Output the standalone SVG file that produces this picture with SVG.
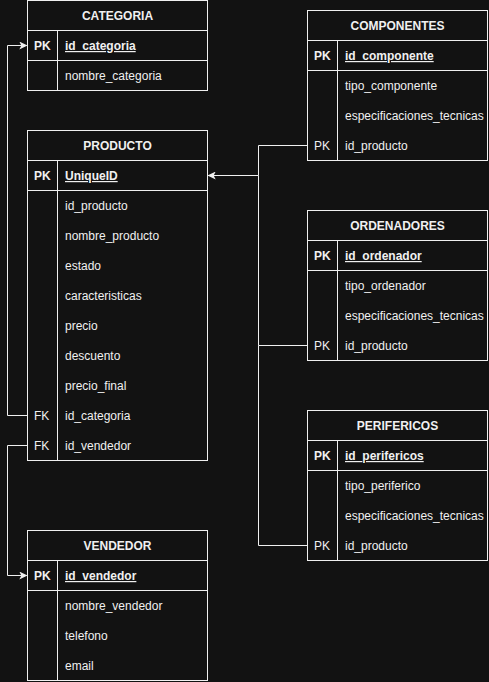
<svg xmlns="http://www.w3.org/2000/svg" width="489" height="682" viewBox="0 0 489 682">
<style>
.bx{fill:#121212;stroke:#f0f0f0;stroke-width:1}
.ln{stroke:#f0f0f0;stroke-width:1;fill:none}
.t{font-family:"Liberation Sans",Arial,sans-serif;font-size:12px;fill:#f0f0f0}
.h{font-weight:bold;text-anchor:middle}
.b{font-weight:bold}
.u{text-decoration:underline}
.c{fill:none;stroke:#f0f0f0;stroke-width:1}
</style>
<defs>
<marker id="arr" viewBox="0 0 10 10" refX="9" refY="5" markerWidth="8" markerHeight="8" markerUnits="userSpaceOnUse" orient="auto">
<path d="M0,0 L10,5 L0,10 L2.5,5 Z" fill="#f0f0f0"/>
</marker>
</defs>
<rect width="489" height="682" fill="#121212"/>

<g id="connectors">
<path class="c" d="M307.5,145.5 H258.5 V175.5 H208.5" marker-end="url(#arr)"/>
<path class="c" d="M307.5,345.5 H258.5 V175.5"/>
<path class="c" d="M307.5,545.5 H258.5 V345.5"/>
<path class="c" d="M27.5,415.5 H7.5 V45.5 H26.5" marker-end="url(#arr)"/>
<path class="c" d="M27.5,445.5 H7.5 V575.5 H26.5" marker-end="url(#arr)"/>
</g>

<g id="categoria">
<rect class="bx" x="27.5" y="0.5" width="180" height="90"/>
<line class="ln" x1="27.5" y1="30.5" x2="207.5" y2="30.5"/>
<line class="ln" x1="27.5" y1="60.5" x2="207.5" y2="60.5"/>
<line class="ln" x1="57.5" y1="30.5" x2="57.5" y2="90.5"/>
<text class="t h" x="117.5" y="20">CATEGORIA</text>
<text class="t b" x="34" y="50">PK</text>
<text class="t b u" x="65" y="50">id_categoria</text>
<text class="t" x="65" y="80">nombre_categoria</text>
</g>

<g id="producto">
<rect class="bx" x="27.5" y="130.5" width="180" height="330"/>
<line class="ln" x1="27.5" y1="160.5" x2="207.5" y2="160.5"/>
<line class="ln" x1="27.5" y1="190.5" x2="207.5" y2="190.5"/>
<line class="ln" x1="57.5" y1="160.5" x2="57.5" y2="460.5"/>
<text class="t h" x="117.5" y="150">PRODUCTO</text>
<text class="t b" x="34" y="180">PK</text>
<text class="t b u" x="65" y="180">UniqueID</text>
<text class="t" x="65" y="210">id_producto</text>
<text class="t" x="65" y="240">nombre_producto</text>
<text class="t" x="65" y="270">estado</text>
<text class="t" x="65" y="300">caracteristicas</text>
<text class="t" x="65" y="330">precio</text>
<text class="t" x="65" y="360">descuento</text>
<text class="t" x="65" y="390">precio_final</text>
<text class="t" x="34" y="420">FK</text>
<text class="t" x="65" y="420">id_categoria</text>
<text class="t" x="34" y="450">FK</text>
<text class="t" x="65" y="450">id_vendedor</text>
</g>

<g id="vendedor">
<rect class="bx" x="27.5" y="530.5" width="180" height="150"/>
<line class="ln" x1="27.5" y1="560.5" x2="207.5" y2="560.5"/>
<line class="ln" x1="27.5" y1="590.5" x2="207.5" y2="590.5"/>
<line class="ln" x1="57.5" y1="560.5" x2="57.5" y2="680.5"/>
<text class="t h" x="117.5" y="550">VENDEDOR</text>
<text class="t b" x="34" y="580">PK</text>
<text class="t b u" x="65" y="580">id_vendedor</text>
<text class="t" x="65" y="610">nombre_vendedor</text>
<text class="t" x="65" y="640">telefono</text>
<text class="t" x="65" y="670">email</text>
</g>

<g id="componentes">
<rect class="bx" x="307.5" y="10.5" width="180" height="150"/>
<line class="ln" x1="307.5" y1="40.5" x2="487.5" y2="40.5"/>
<line class="ln" x1="307.5" y1="70.5" x2="487.5" y2="70.5"/>
<line class="ln" x1="337.5" y1="40.5" x2="337.5" y2="160.5"/>
<text class="t h" x="397.5" y="30">COMPONENTES</text>
<text class="t b" x="314" y="60">PK</text>
<text class="t b u" x="345" y="60">id_componente</text>
<text class="t" x="345" y="90">tipo_componente</text>
<text class="t" x="345" y="120">especificaciones_tecnicas</text>
<text class="t" x="314" y="150">PK</text>
<text class="t" x="345" y="150">id_producto</text>
</g>

<g id="ordenadores">
<rect class="bx" x="307.5" y="210.5" width="180" height="150"/>
<line class="ln" x1="307.5" y1="240.5" x2="487.5" y2="240.5"/>
<line class="ln" x1="307.5" y1="270.5" x2="487.5" y2="270.5"/>
<line class="ln" x1="337.5" y1="240.5" x2="337.5" y2="360.5"/>
<text class="t h" x="397.5" y="230">ORDENADORES</text>
<text class="t b" x="314" y="260">PK</text>
<text class="t b u" x="345" y="260">id_ordenador</text>
<text class="t" x="345" y="290">tipo_ordenador</text>
<text class="t" x="345" y="320">especificaciones_tecnicas</text>
<text class="t" x="314" y="350">PK</text>
<text class="t" x="345" y="350">id_producto</text>
</g>

<g id="perifericos">
<rect class="bx" x="307.5" y="410.5" width="180" height="150"/>
<line class="ln" x1="307.5" y1="440.5" x2="487.5" y2="440.5"/>
<line class="ln" x1="307.5" y1="470.5" x2="487.5" y2="470.5"/>
<line class="ln" x1="337.5" y1="440.5" x2="337.5" y2="560.5"/>
<text class="t h" x="397.5" y="430">PERIFERICOS</text>
<text class="t b" x="314" y="460">PK</text>
<text class="t b u" x="345" y="460">id_perifericos</text>
<text class="t" x="345" y="490">tipo_periferico</text>
<text class="t" x="345" y="520">especificaciones_tecnicas</text>
<text class="t" x="314" y="550">PK</text>
<text class="t" x="345" y="550">id_producto</text>
</g>
</svg>
